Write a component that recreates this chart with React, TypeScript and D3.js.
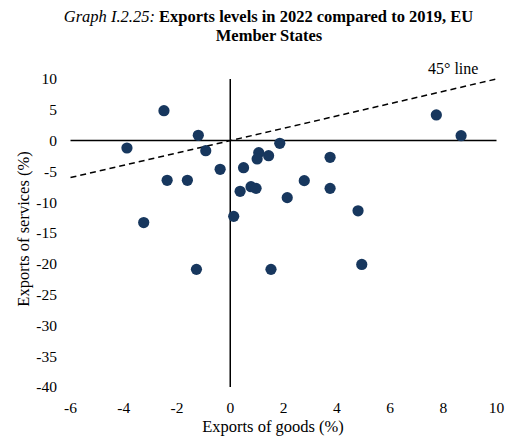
import React from 'react';
import * as d3 from 'd3';

// Exports of goods (%) vs exports of services (%), 2022 vs 2019
const goods = [
  -2.49, -1.2, -3.88, -0.92, -0.38, 0.5, 1.07, 1.01, 1.44, 1.86, -2.37, -1.61, 0.37, 0.78,
  0.97, 7.74, 8.67, 3.75, 2.78, 3.75, 2.14, 4.8, -3.25, 0.13, -1.27, 1.53, 4.94,
];
const services = [
  4.85, 0.86, -1.2, -1.64, -4.66, -4.4, -1.96, -2.99, -2.45, -0.44, -6.45, -6.45, -8.23, -7.48,
  -7.75, 4.16, 0.8, -2.71, -6.5, -7.75, -9.26, -11.4, -13.3, -12.3, -20.9, -20.9, -20.1,
];
const xTicks = [-6, -4, -2, 0, 2, 4, 6, 8, 10];
const yTicks = [10, 5, 0, -5, -10, -15, -20, -25, -30, -35, -40];
const lineEnds = [-6, 10];

const W = 507;
const H = 436;
const font = '"Liberation Serif", "Times New Roman", serif';

export default function App() {
  const x = d3.scaleLinear().domain([-6, 10]).range([70.5, 496.5]);
  const y = d3.scaleLinear().domain([10, -40]).range([79, 387]);
  const diag = d3
    .line<number>()
    .x((d) => x(d))
    .y((d) => y(d));

  return (
    <svg
      width={W}
      height={H}
      style={{ position: 'absolute', left: 0, top: 0, background: '#fff' }}
      fontFamily={font}
    >
      <text x={268.5} y={22} textAnchor="middle" fontSize={16.5}>
        <tspan fontStyle="italic">Graph I.2.25: </tspan>
        <tspan fontWeight="bold">Exports levels in 2022 compared to 2019, EU</tspan>
      </text>
      <text x={269} y={41} textAnchor="middle" fontSize={16.5} fontWeight="bold">
        Member States
      </text>

      {/* axes through origin */}
      <line x1={x(-6)} x2={x(10)} y1={y(0)} y2={y(0)} stroke="#000" strokeWidth={1.5} />
      <line x1={x(0)} x2={x(0)} y1={y(10)} y2={y(-40)} stroke="#000" strokeWidth={1.5} />

      {/* 45 degree line */}
      <path
        d={diag(lineEnds) ?? ''}
        fill="none"
        stroke="#000"
        strokeWidth={1.5}
        strokeDasharray="6,4"
      />
      <text x={428} y={74} fontSize={16}>
        45° line
      </text>

      {goods.map((g, i) => (
        <circle key={i} cx={x(g)} cy={y(services[i])} r={5.6} fill="#17375e" />
      ))}

      {yTicks.map((t) => (
        <text key={t} x={57} y={y(t)} dy="0.35em" textAnchor="end" fontSize={15.5}>
          {t}
        </text>
      ))}
      {xTicks.map((t) => (
        <text key={t} x={x(t)} y={413} textAnchor="middle" fontSize={15.5}>
          {t}
        </text>
      ))}

      <text x={273} y={432} textAnchor="middle" fontSize={16.5}>
        Exports of goods (%)
      </text>
      <text
        transform={`translate(29, ${229}) rotate(-90)`}
        textAnchor="middle"
        fontSize={16.5}
      >
        Exports of services (%)
      </text>
    </svg>
  );
}
